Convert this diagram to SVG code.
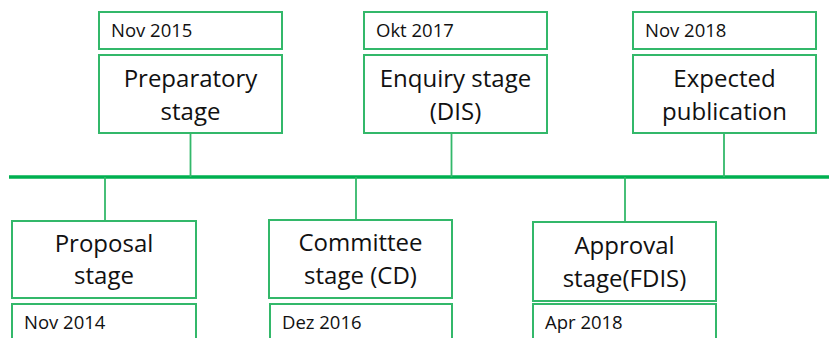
<svg xmlns="http://www.w3.org/2000/svg" width="829" height="338" viewBox="0 0 829 338">
<style>
.box{fill:#fff;stroke:#33B86A;stroke-width:2}
.conn{stroke:#33B86A;stroke-width:1.8;fill:none}
.tl{stroke:#00B050;stroke-width:3.5;fill:none}
.stage{font-family:"Open Sans","Liberation Sans",sans-serif;font-size:24px;fill:#111;text-anchor:middle}
.date{font-family:"Open Sans","Liberation Sans",sans-serif;font-size:18.5px;fill:#111}
</style>
<rect width="829" height="338" fill="#fff"/>
<g id="connectors">
<line class="tl" x1="9" y1="177" x2="829" y2="177"/>
<line class="conn" x1="190.5" y1="133" x2="190.5" y2="177"/>
<line class="conn" x1="451.5" y1="133" x2="451.5" y2="177"/>
<line class="conn" x1="724" y1="133" x2="724" y2="177"/>
<line class="conn" x1="105" y1="177" x2="105" y2="221"/>
<line class="conn" x1="356" y1="177" x2="356" y2="220"/>
<line class="conn" x1="625" y1="177" x2="625" y2="222"/>
</g>
<g id="preparatory">
<rect class="box" x="99" y="12" width="183" height="37"/>
<text class="date" x="111" y="37">Nov 2015</text>
<rect class="box" x="99" y="55" width="183" height="78"/>
<text class="stage" x="190.5" y="87">Preparatory</text>
<text class="stage" x="190.5" y="120">stage</text>
</g>
<g id="enquiry">
<rect class="box" x="364" y="12" width="183" height="37"/>
<text class="date" x="376" y="37">Okt 2017</text>
<rect class="box" x="364" y="55" width="183" height="78"/>
<text class="stage" x="455.5" y="87">Enquiry stage</text>
<text class="stage" x="455.5" y="120">(DIS)</text>
</g>
<g id="publication">
<rect class="box" x="633" y="12" width="183" height="37"/>
<text class="date" x="645" y="37">Nov 2018</text>
<rect class="box" x="633" y="55" width="183" height="78"/>
<text class="stage" x="724.5" y="87">Expected</text>
<text class="stage" x="724.5" y="120">publication</text>
</g>
<g id="proposal">
<rect class="box" x="12" y="221" width="184" height="77"/>
<text class="stage" x="104" y="252">Proposal</text>
<text class="stage" x="104" y="284">stage</text>
<rect class="box" x="12" y="304" width="184" height="40"/>
<text class="date" x="24" y="329">Nov 2014</text>
</g>
<g id="committee">
<rect class="box" x="269" y="220" width="183" height="78"/>
<text class="stage" x="360.5" y="251">Committee</text>
<text class="stage" x="360.5" y="284">stage (CD)</text>
<rect class="box" x="270" y="304" width="182" height="40"/>
<text class="date" x="282" y="329">Dez 2016</text>
</g>
<g id="approval">
<rect class="box" x="533" y="222" width="183" height="79"/>
<text class="stage" x="624.5" y="254">Approval</text>
<text class="stage" x="624.5" y="287">stage(FDIS)</text>
<rect class="box" x="533" y="304" width="183" height="40"/>
<text class="date" x="545" y="329">Apr 2018</text>
</g>
</svg>
